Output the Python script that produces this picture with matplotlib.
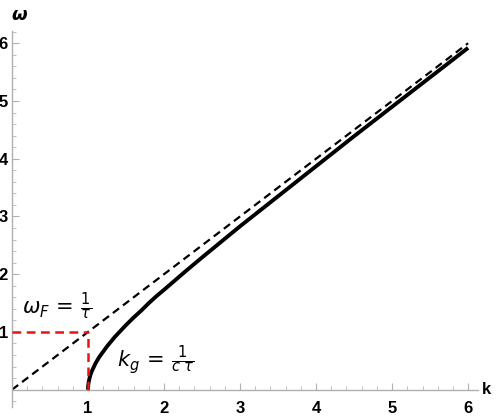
import matplotlib
matplotlib.use("Agg")
import matplotlib.pyplot as plt
from matplotlib.ticker import MultipleLocator

# Dispersion curve values
k_curve = [1.0, 1.002, 1.005, 1.01, 1.02, 1.03, 1.05, 1.075, 1.1, 1.15, 1.2, 1.25, 1.3, 1.35,
           1.4, 1.45, 1.5, 1.6, 1.7, 1.8, 1.9, 2.0, 2.15, 2.3, 2.5, 2.75, 3.0, 3.5, 4.0, 4.5,
           5.0, 5.5, 6.0]
w_curve = [0.0, 0.063, 0.10, 0.14, 0.20, 0.25, 0.32, 0.39, 0.46, 0.57, 0.66, 0.75, 0.83, 0.91,
           0.98, 1.05, 1.12, 1.25, 1.37, 1.50, 1.62, 1.73, 1.90, 2.07, 2.29, 2.56, 2.83, 3.35,
           3.87, 4.39, 4.90, 5.41, 5.92]
# Light line omega = k
k_light = [0, 6]
w_light = [0, 6]
# Red guide lines
k_g = 1.0
w_F = 1.0

fig = plt.figure(figsize=(5.0, 4.16), dpi=100)
ax = fig.add_axes([0.024, 0.0216, 0.932, 0.905])

ax.plot(k_light, w_light, color="black", lw=1.6, ls=(0, (3.5, 2.2)), zorder=2)
ax.plot(k_curve, w_curve, color="black", lw=2.8, solid_capstyle="butt", zorder=3)
ax.plot([0, k_g], [w_F, w_F], color="#ee1111", lw=1.8, ls=(0, (3.5, 2.2)), zorder=4)
ax.plot([k_g, k_g], [0, w_F], color="#ee1111", lw=1.8, ls=(0, (3.5, 2.2)), zorder=4)

ax.set_xlim(0, 6.13)
ax.set_ylim(-0.3, 6.22)

for s in ["top", "right"]:
    ax.spines[s].set_visible(False)
ax.spines["left"].set_position(("data", 0))
ax.spines["bottom"].set_position(("data", 0))
for s in ["left", "bottom"]:
    ax.spines[s].set_color("#b0b0b0")
    ax.spines[s].set_linewidth(1.0)

ax.xaxis.set_major_locator(MultipleLocator(1))
ax.xaxis.set_minor_locator(MultipleLocator(0.2))
ax.yaxis.set_major_locator(MultipleLocator(1))
ax.yaxis.set_minor_locator(MultipleLocator(0.2))
ax.tick_params(which="major", direction="in", length=5, color="#b0b0b0", width=0.8,
               labelsize=12, pad=3)
ax.tick_params(which="minor", direction="in", length=3, color="#c0c0c0", width=0.7)
ax.tick_params(axis="x", pad=8)
ax.set_xticks([1, 2, 3, 4, 5, 6])
ax.set_yticks([1, 2, 3, 4, 5, 6])
for lab in ax.get_xticklabels() + ax.get_yticklabels():
    lab.set_fontweight("bold")
    lab.set_family("Liberation Sans")

fig.text(0.022, 0.965, "ω", fontsize=13,
         fontweight="bold", style="italic", ha="left", va="center", family="DejaVu Sans")
fig.text(0.972, 0.063, "k", fontsize=12, fontweight="bold", ha="center", va="center",
         family="Liberation Sans")

ax.text(0.13, 1.45, r"$\omega_F\,=\,\frac{1}{\tau}$", fontsize=15, ha="left", va="center")
ax.text(1.38, 0.5, r"$k_g\,=\,\frac{1}{c\;\tau}$", fontsize=15, ha="left", va="center")

fig.savefig("out.png", dpi=100)
